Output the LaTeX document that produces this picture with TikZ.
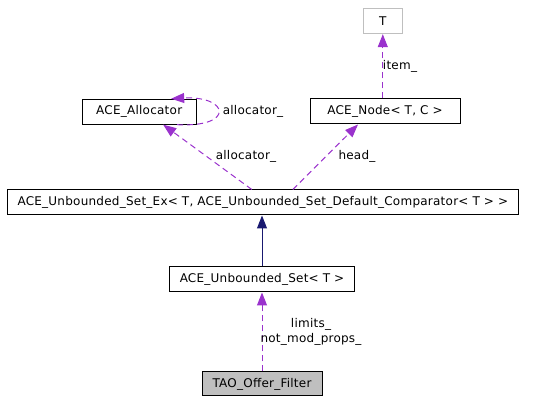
\documentclass[tikz,border=0pt]{standalone}
\usepackage{fontspec}
\setmainfont{DejaVu Sans}[LetterSpace=2]
\usetikzlibrary{arrows.meta}
\definecolor{mempurple}{HTML}{9A32CD}
\definecolor{inhnavy}{HTML}{191970}
\definecolor{boxgray}{HTML}{BFBFBF}
\tikzset{
  cls/.style={draw=black, line width=1pt, minimum height=25pt, inner sep=0pt, font=\fontsize{12}{14}\selectfont},
  tmpl/.style={cls, draw=boxgray},
  self/.style={cls, fill=boxgray},
  member/.style={draw=mempurple, line width=1pt, dash pattern=on 6pt off 4pt, -{Triangle[length=13pt,width=10pt]}},
  inherit/.style={draw=inhnavy, line width=1pt, -{Triangle[length=13pt,width=10pt]}},
  lbl/.style={inner sep=0pt, font=\fontsize{12}{15}\selectfont, align=center}
}
\begin{document}
\begin{tikzpicture}[x=1pt, y=-1pt]
  \useasboundingbox (0,0) rectangle (555,403);
  % classes
  \node[tmpl, minimum width=39pt] (t) at (382.8,21.2) {T};
  \node[cls, minimum width=114pt] (alloc) at (139.2,111.7) {ACE\_Allocator};
  \node[cls, minimum width=150pt] (acenode) at (385,111.5) {ACE\_Node< T, C >};
  \node[cls, minimum width=511pt] (setex) at (262.8,202.5) {ACE\_Unbounded\_Set\_Ex< T, ACE\_Unbounded\_Set\_Default\_Comparator< T > >};
  \node[cls, minimum width=185pt] (uset) at (262,279.5) {ACE\_Unbounded\_Set< T >};
  \node[self, minimum width=120pt, minimum height=24pt] (filter) at (262,384) {TAO\_Offer\_Filter};
  % relations
  \draw[inherit] (uset.north) -- (uset.north |- setex.south);
  \draw[member] (filter.north) -- (filter.north |- uset.south);
  \draw[member] ([xshift=-11pt]setex.north) -- ([xshift=24pt]alloc.south);
  \draw[member] ([xshift=30pt]setex.north) -- ([xshift=-27pt]acenode.south);
  \draw[member] (acenode.north -| t.south) -- (t.south);
  \draw[member] ([xshift=38pt]alloc.south) .. controls +(58,3) and +(58,-3) .. ([xshift=32pt]alloc.north);
  % labels
  \node[lbl] (itemlbl) at (400,66) {item\_};
  \node[lbl] (selflbl) at (253,111) {allocator\_};
  \node[lbl] (alloclbl) at (246,156) {allocator\_};
  \node[lbl] (headlbl) at (357,156) {head\_};
  \node[lbl] (limitslbl) at (311,331.5) {limits\_\\not\_mod\_props\_};
\end{tikzpicture}
\end{document}
